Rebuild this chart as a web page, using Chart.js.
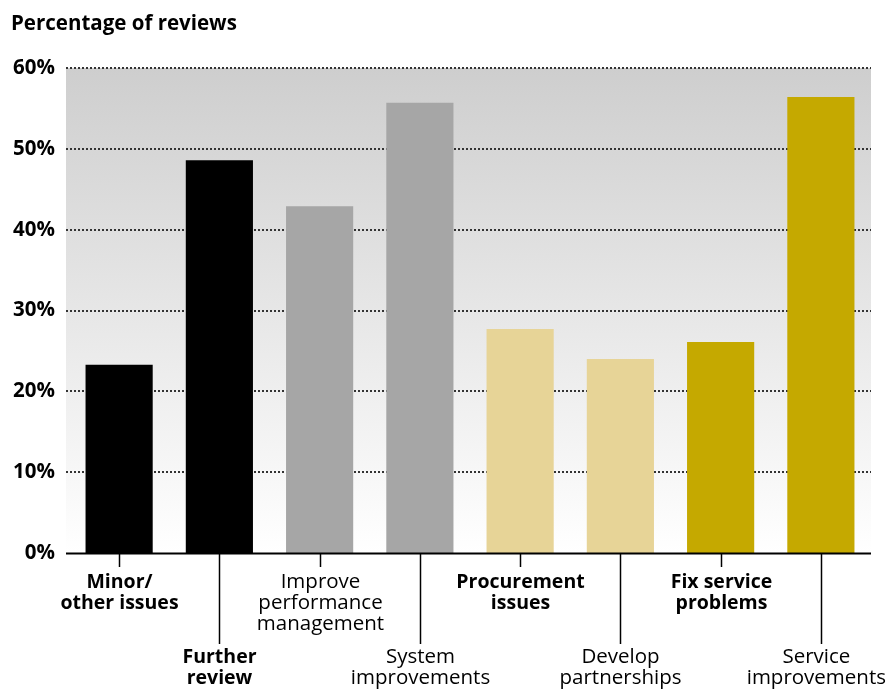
<!DOCTYPE html>
<html>
<head>
<meta charset="utf-8">
<script src="https://cdn.jsdelivr.net/npm/chart.js@4/dist/chart.umd.min.js"></script>
<style>
  html, body { margin: 0; padding: 0; background: #ffffff; }
  #wrap { width: 890px; height: 689px; position: relative; }
</style>
</head>
<body>
<div id="wrap"><canvas id="c" width="890" height="689"></canvas></div>
<script>
// ---- Data ----
const categories = [
  ['Minor/', 'other issues'],
  ['Further', 'review'],
  ['Improve', 'performance', 'management'],
  ['System', 'improvements'],
  ['Procurement', 'issues'],
  ['Develop', 'partnerships'],
  ['Fix service', 'problems'],
  ['Service', 'improvements']
];
const values = [23.3, 48.6, 42.9, 55.7, 27.7, 24.0, 26.1, 56.4];
const yTickValues = [0, 10, 20, 30, 40, 50, 60];
const titleText = 'Percentage of reviews';

// ---- Styles ----
const barColors = ['#000000', '#000000', '#a6a6a6', '#a6a6a6', '#e7d497', '#e7d497', '#c5a900', '#c5a900'];
const labelBold = [true, true, false, false, true, false, true, false];
const labelLow = [false, true, false, true, false, true, false, true];
const FONT = '"Open Sans", "Noto Sans", sans-serif';

const decor = {
  id: 'decor',
  beforeDatasetsDraw(chart) {
    const ctx = chart.ctx;
    const ys = chart.scales.y;
    const area = chart.chartArea;
    const left = area.left - 3, right = area.right;
    const top = ys.getPixelForValue(60), bottom = ys.getPixelForValue(0);
    ctx.save();
    const g = ctx.createLinearGradient(0, top, 0, bottom);
    g.addColorStop(0, '#cecece');
    g.addColorStop(1, '#ffffff');
    ctx.fillStyle = g;
    ctx.fillRect(left, top, right - left, bottom - top);
    // dotted gridlines
    ctx.strokeStyle = '#333333';
    ctx.lineWidth = 2;
    ctx.setLineDash([2, 2]);
    yTickValues.forEach(v => {
      if (v === 0) return;
      const y = Math.round(ys.getPixelForValue(v));
      ctx.beginPath();
      ctx.moveTo(left, y);
      ctx.lineTo(right, y);
      ctx.stroke();
    });
    ctx.setLineDash([]);
    // title
    ctx.fillStyle = '#000';
    ctx.font = 'bold 20.5px ' + FONT;
    ctx.textAlign = 'left';
    ctx.textBaseline = 'alphabetic';
    ctx.fillText(titleText, 11, 30);
    ctx.restore();
  },
  afterDatasetsDraw(chart) {
    const ctx = chart.ctx;
    const ys = chart.scales.y;
    const xs = chart.scales.x;
    const area = chart.chartArea;
    const y0 = ys.getPixelForValue(0);
    ctx.save();
    // axis line
    ctx.strokeStyle = '#000';
    ctx.lineWidth = 2;
    ctx.beginPath();
    ctx.moveTo(area.left - 3, y0 + 0.5);
    ctx.lineTo(area.right, y0 + 0.5);
    ctx.stroke();
    // tick lines and labels
    ctx.lineWidth = 1.5;
    ctx.fillStyle = '#000';
    ctx.textAlign = 'center';
    ctx.textBaseline = 'alphabetic';
    categories.forEach((lines, i) => {
      const x = Math.round(xs.getPixelForValue(i)) + 0.5;
      const low = labelLow[i];
      ctx.beginPath();
      ctx.moveTo(x, y0 + 1);
      ctx.lineTo(x, y0 + (low ? 91 : 14));
      ctx.stroke();
      ctx.font = labelBold[i] ? ('bold 19.5px ' + FONT) : ('20.5px ' + FONT);
      const w = Math.max(...lines.map(t => ctx.measureText(t).width));
      let cx = x;
      if (cx + w / 2 > chart.width - 4) cx = chart.width - 4 - w / 2;
      const base = y0 + (low ? 110 : 35);
      lines.forEach((t, k) => ctx.fillText(t, cx, base + k * 21));
    });
    ctx.restore();
  }
};

new Chart(document.getElementById('c'), {
  type: 'bar',
  data: {
    labels: categories,
    datasets: [{
      data: values,
      backgroundColor: barColors,
      borderWidth: 0,
      categoryPercentage: 1.0,
      barPercentage: 0.67
    }]
  },
  options: {
    responsive: false,
    animation: false,
    devicePixelRatio: 1,
    layout: { padding: { left: 0, right: 19, top: 68, bottom: 136 } },
    plugins: { legend: { display: false }, tooltip: { enabled: false }, title: { display: false } },
    scales: {
      x: { display: false },
      y: {
        min: 0, max: 60,
        afterFit(scale) { scale.width = 69; },
        afterBuildTicks(scale) { scale.ticks = yTickValues.map(v => ({ value: v })); },
        grid: { display: false, drawTicks: false },
        border: { display: false },
        ticks: {
          padding: 14,
          color: '#000',
          font: { family: FONT, size: 20.5, weight: 'bold' },
          callback: v => v + '%'
        }
      }
    }
  },
  plugins: [decor]
});
</script>
</body>
</html>
